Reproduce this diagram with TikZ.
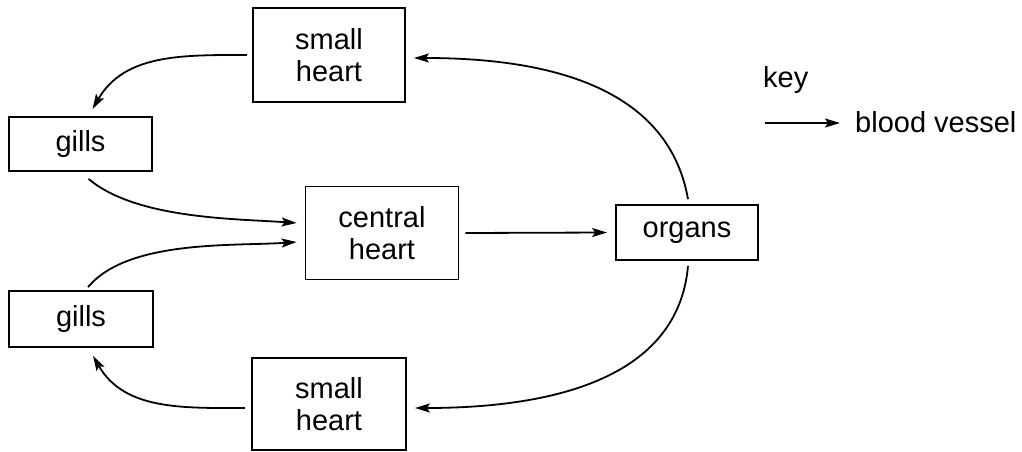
\documentclass[tikz,border=0pt]{standalone}
\usepackage{fontspec}
\setmainfont{Liberation Sans}
\usetikzlibrary{arrows.meta}
\begin{document}
\begin{tikzpicture}[x=1pt,y=-1pt,
  box/.style={draw, line width=1.8pt, inner sep=0pt, align=center,
    font=\fontsize{29}{32}\selectfont},
  lbl/.style={anchor=base west, inner sep=0pt, font=\fontsize{29}{32}\selectfont},
  vessel/.style={line width=1.8pt, -{Stealth[length=15pt,width=9pt,inset=3pt]}}]
\useasboundingbox (0,0) rectangle (1022,452);
\node[box, minimum width=152pt, minimum height=94pt] (sht) at (329,55) {small\\heart};
\node[box, minimum width=143pt, minimum height=54pt] (gt) at (80.5,144) {gills};
\node[box, minimum width=153pt, minimum height=93pt] (ch) at (382,233) {central\\heart};
\node[box, minimum width=142pt, minimum height=55pt] (org) at (687,232.5) {organs};
\node[box, minimum width=144pt, minimum height=56pt] (gb) at (81,319) {gills};
\node[box, minimum width=154pt, minimum height=92pt] (shb) at (329,404) {small\\heart};
\coordinate (k1) at (765,123);
\coordinate (k2) at (840,123);
\node[lbl] (keylabel) at (763,87) {key};
\node[lbl] (bv) at (855,132) {blood vessel};
% connectors
\draw[vessel] ([xshift=-5pt]sht.west) to[out=180,in=60] ([xshift=12pt,yshift=7pt]gt.north);
\draw[vessel] ([xshift=8pt,yshift=-7pt]gt.south) to[out=-40,in=176,looseness=0.75] ([xshift=-8pt,yshift=10pt]ch.west);
\draw[vessel] ([xshift=7pt,yshift=3pt]gb.north) to[out=50,in=184,looseness=0.75] ([xshift=-8pt,yshift=-9pt]ch.west);
\draw[vessel] ([xshift=6pt]ch.east) -- ([xshift=-8pt]org.west);
\draw[vessel] ([xshift=1pt,yshift=5pt]org.north) to[out=100,in=0] ([xshift=8pt,yshift=-3pt]sht.east);
\draw[vessel] ([xshift=1pt,yshift=-5pt]org.south) to[out=-95,in=0] ([xshift=8pt,yshift=-4pt]shb.east);
\draw[vessel] ([xshift=-6pt,yshift=-4pt]shb.west) to[out=180,in=-60] ([xshift=12pt,yshift=-8pt]gb.south);
\draw[vessel] (k1) -- (k2);
\end{tikzpicture}
\end{document}
